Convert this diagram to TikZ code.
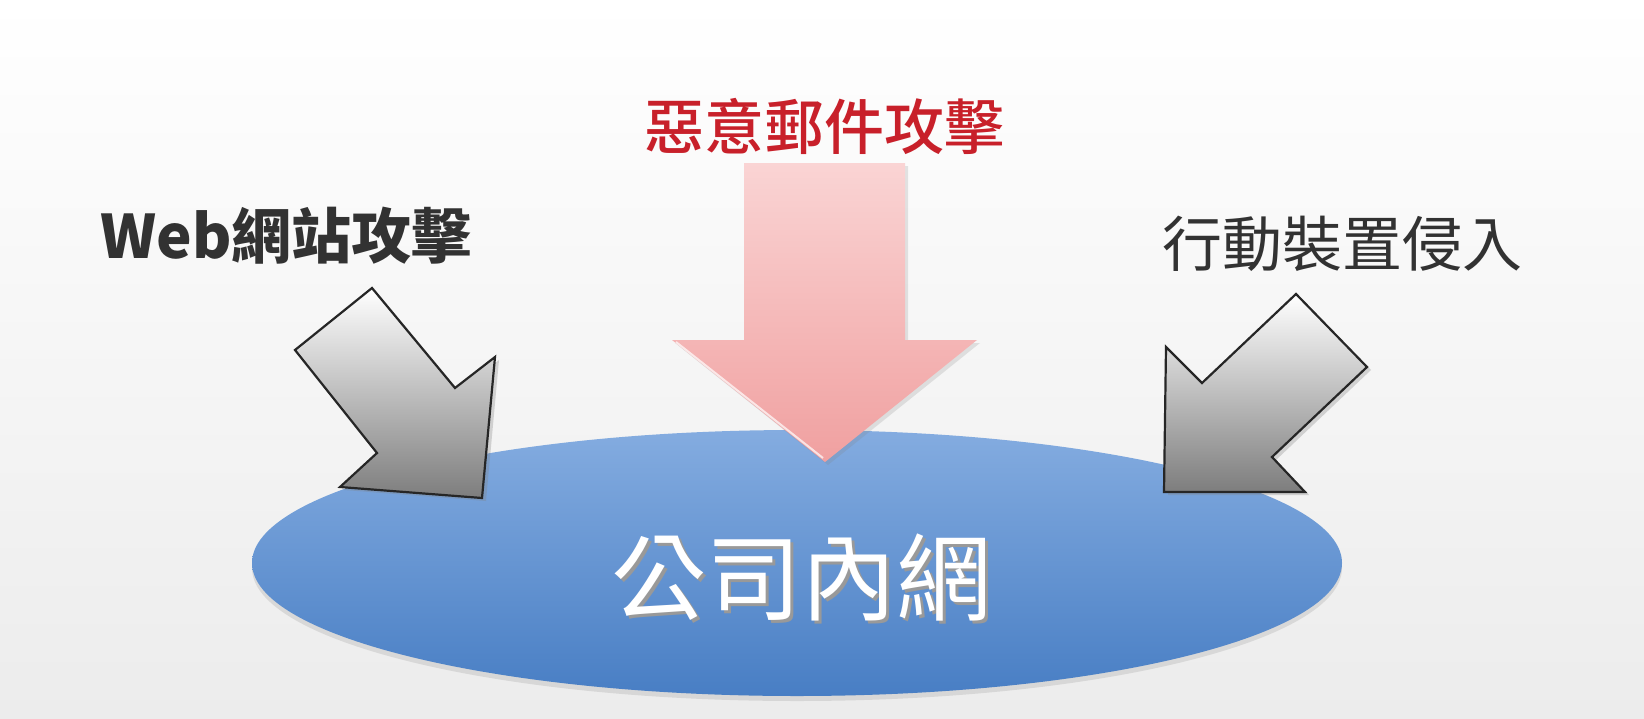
\documentclass[tikz,border=0pt]{standalone}
\usepackage{fontspec}
\newfontfamily\cjk{Noto Sans CJK TC}
\newfontfamily\cjkm{Noto Sans CJK TC Medium}
\usetikzlibrary{shadows,shapes.geometric}
\definecolor{redtxt}{RGB}{200,32,42}
\definecolor{darktxt}{RGB}{50,50,50}
\definecolor{bgbot}{RGB}{236,236,236}
\definecolor{elltop}{RGB}{132,172,224}
\definecolor{ellbot}{RGB}{72,126,196}
\definecolor{pinktop}{RGB}{250,212,212}
\definecolor{pinkbot}{RGB}{240,160,160}
\definecolor{graybot}{RGB}{125,125,125}
\tikzset{
  label/.style={font=\cjk\bfseries\fontsize{60}{60}\selectfont, inner sep=0pt},
  grayarrow/.style={draw=black!85, line width=2.2pt, line join=miter, top color=white, bottom color=graybot,
    drop shadow={opacity=0.3, shadow xshift=4pt, shadow yshift=-3pt}},
  pinkarrow/.style={top color=pinktop, bottom color=pinkbot,
    drop shadow={opacity=0.2, shadow xshift=3pt, shadow yshift=-3pt}},
}
\begin{document}
\begin{tikzpicture}[x=1pt,y=-1pt]
\useasboundingbox (0,0) rectangle (1644,718);
\shade[top color=white, bottom color=bgbot] (0,0) rectangle (1644,718);

% central network ellipse
\node[ellipse, minimum width=1090pt, minimum height=266pt, inner sep=0pt,
  top color=elltop, bottom color=ellbot,
  drop shadow={opacity=0.2, shadow xshift=0pt, shadow yshift=-5pt}] (net) at (797,563) {};
\node[font=\cjk\fontsize{95}{95}\selectfont, text=white, inner sep=0pt] (nettext) at (801,579)
  {\makebox[0pt][l]{\kern3.5pt\raisebox{-3.5pt}{\color{black!40}公司內網}}公司內網};

% left grey arrow
\path[grayarrow] (372,288) -- (455,388) -- (495,357) -- (482,498) -- (340,487) -- (377,453) -- (295,350) -- cycle;
% right grey arrow
\path[grayarrow] (1296,294) -- (1367,367) -- (1272,457) -- (1305,492) -- (1164,492) -- (1166,347) -- (1202,383) -- cycle;
% pink arrow
\path[pinkarrow] (744,163) -- (905,163) -- (905,340) -- (977,340) -- (825,462) -- (672,340) -- (744,340) -- cycle;
\draw[white, opacity=0.7, line width=2pt] (676,342) -- (823,458);

% labels
\node[label, font=\cjkm\fontsize{60}{60}\selectfont, text=redtxt] (mail) at (824,126) {惡意郵件攻擊};
\node[label, text=darktxt] (web) at (286,236) {Web網站攻擊};
\node[label, font=\cjk\fontsize{60}{60}\selectfont, text=darktxt] (mobile) at (1342,244) {行動裝置侵入};
\end{tikzpicture}
\end{document}
